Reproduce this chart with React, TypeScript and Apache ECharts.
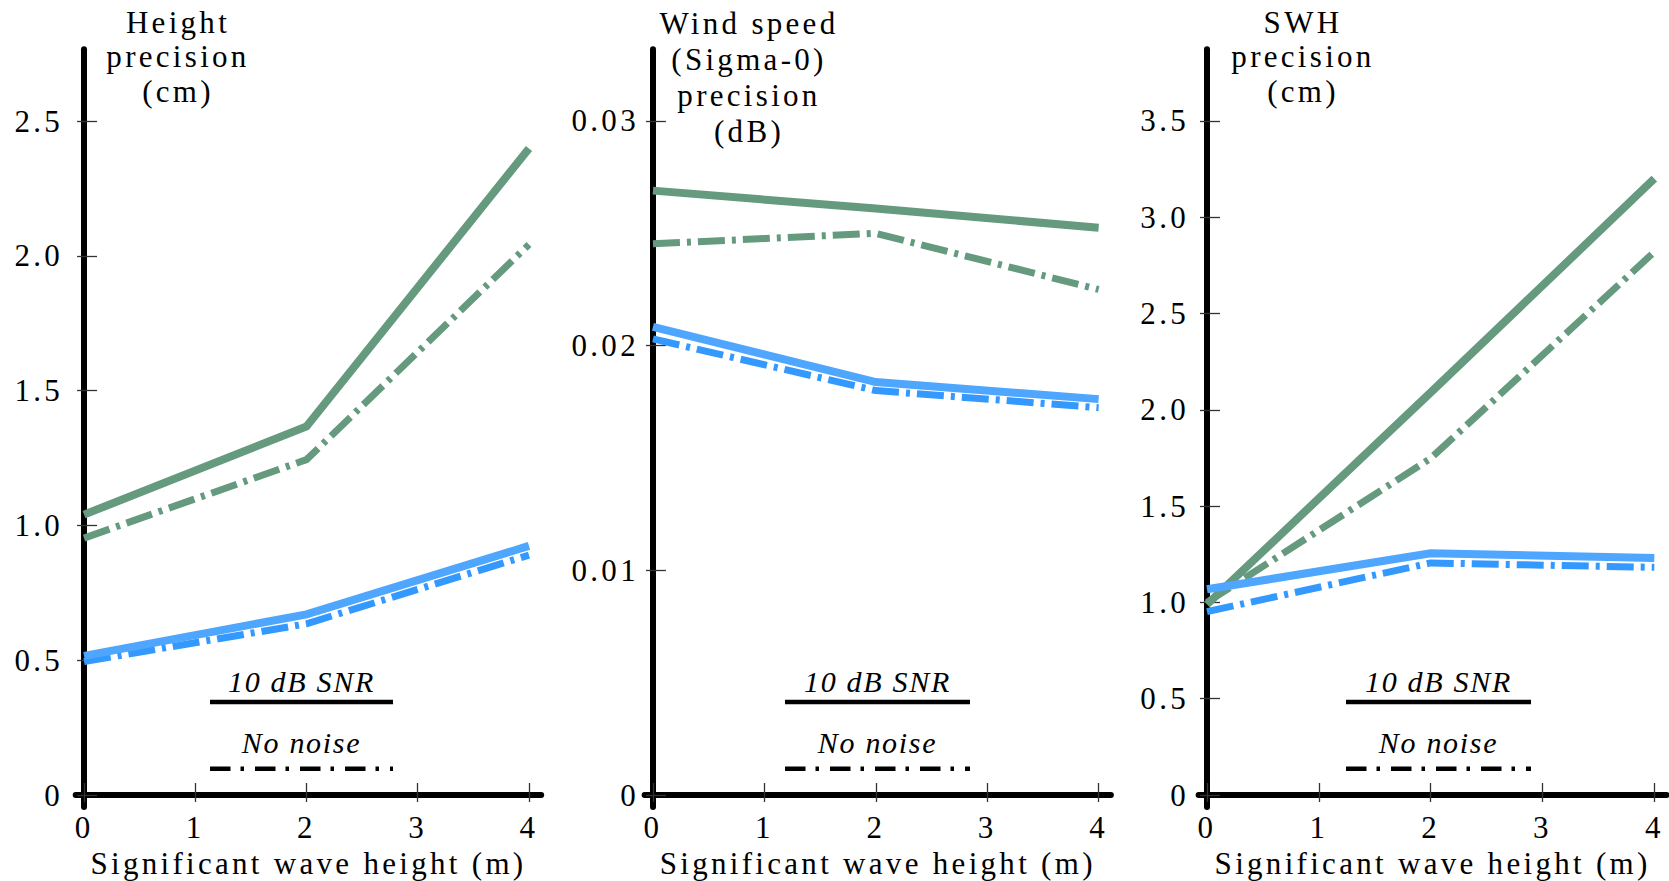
import React, { useEffect, useRef } from "react";
import * as echarts from "echarts";

// ---------- data ----------
const waveHeights = [0, 2, 4];
const xTickValues = [0, 1, 2, 3, 4];

const heightSolidGreen = [1.04, 1.367, 2.398];
const heightDashGreen = [0.953, 1.244, 2.042];
const heightSolidBlue = [0.516, 0.67, 0.924];
const heightDashBlue = [0.495, 0.635, 0.89];
const heightTicks = [0, 0.5, 1, 1.5, 2, 2.5];

const windSolidGreen = [0.0269, 0.0261, 0.02525];
const windDashGreen = [0.02453, 0.025, 0.0225];
const windSolidBlue = [0.02084, 0.01838, 0.01762];
const windDashBlue = [0.0203, 0.018, 0.01724];
const windTicks = [0, 0.01, 0.02, 0.03];

const swhSolidGreen = [0.99, 2.09, 3.2];
const swhDashGreen = [1.0, 1.748, 2.82];
const swhSolidBlue = [1.068, 1.255, 1.23];
const swhDashBlue = [0.952, 1.205, 1.182];
const swhTicks = [0, 0.5, 1, 1.5, 2, 2.5, 3, 3.5];

const panelTitles = [
  "Height\nprecision\n(cm)",
  "Wind speed\n(Sigma-0)\nprecision\n(dB)",
  "SWH\nprecision\n(cm)",
];
const xAxisName = "Significant wave height (m)";
const legendSolidText = "10 dB SNR";
const legendDashText = "No noise";

// ---------- styling / layout ----------
const FONT = "Liberation Serif, serif";
const GREEN = "#659a7e";
const BLUE_SOLID = "#4ea6ff";
const BLUE_DASH = "#3399ff";
const SERIES_DASH = [27, 7, 4, 7];
const LEGEND_DASH = [20.5, 10, 3.5, 11];

const GRID_TOP = 49.3;
const GRID_HEIGHT = 757.7;
const X_MIN = -0.075;
const X_MAX = 4.11;

const panels = [
  {
    left: 75.7, width: 465.5, yMin: -0.0445, yMax: 2.766, labelMargin: 21, decimals: 1,
    titleX: 178, legendX1: 210, legendX2: 393, ticks: heightTicks, titleLineHeight: 34.5,
    lines: [heightSolidGreen, heightDashGreen, heightDashBlue, heightSolidBlue],
  },
  {
    left: 644.6, width: 466.3, yMin: -0.000534, yMax: 0.03319, labelMargin: 14, decimals: 2,
    titleX: 749, legendX1: 785, legendX2: 970, ticks: windTicks, titleLineHeight: 36,
    lines: [windSolidGreen, windDashGreen, windDashBlue, windSolidBlue],
  },
  {
    left: 1198.6, width: 468, yMin: -0.0623, yMax: 3.872, labelMargin: 18, decimals: 1,
    titleX: 1303, legendX1: 1346, legendX2: 1531, ticks: swhTicks, titleLineHeight: 34.5,
    lines: [swhSolidGreen, swhDashGreen, swhDashBlue, swhSolidBlue],
  },
];

const lineStyles = [
  { color: GREEN, width: 8, dashed: false },
  { color: GREEN, width: 7, dashed: true },
  { color: BLUE_DASH, width: 7, dashed: true },
  { color: BLUE_SOLID, width: 8, dashed: false },
];

const css = `
.wave-chart text { letter-spacing: 3.3px; }
.wave-chart text[style*="italic"], .wave-chart text[font-style="italic"] { letter-spacing: 1.7px; }
`;

function buildOption() {
  const grid: any[] = [];
  const xAxis: any[] = [];
  const yAxis: any[] = [];
  const series: any[] = [];
  const graphic: any[] = [];

  const labelStyle = { color: "#000", fontSize: 31, fontFamily: FONT };
  const tickStyle = { color: "#333", width: 1.3 };

  panels.forEach((p) => {
    grid.push({
      left: p.left, top: GRID_TOP, width: p.width, height: GRID_HEIGHT,
      containLabel: false, outerBoundsMode: "none",
    });
  });

  panels.forEach((p, i) => {
    const fmt = (v: number) => (v === 0 ? "0" : v.toFixed(p.decimals));
    // position of the zero lines, relative to the grid edges
    const xOffset = -((0 - p.yMin) / (p.yMax - p.yMin)) * GRID_HEIGHT;
    const yOffset = -((0 - X_MIN) / (X_MAX - X_MIN)) * p.width;
    // main axes (line, labels, inner part of the ticks)
    xAxis.push({
      type: "value", gridIndex: i, min: X_MIN, max: X_MAX, position: "bottom", offset: xOffset,
      axisLine: { show: true, onZero: false, lineStyle: { color: "#000", width: 6 } },
      axisTick: { show: true, inside: true, length: 12, customValues: xTickValues, lineStyle: tickStyle },
      axisLabel: { show: true, customValues: xTickValues, margin: 17, ...labelStyle },
      splitLine: { show: false },
      name: xAxisName, nameLocation: "middle", nameGap: 50,
      nameTextStyle: { ...labelStyle },
    });
    yAxis.push({
      type: "value", gridIndex: i, min: p.yMin, max: p.yMax, position: "left", offset: yOffset,
      axisLine: { show: true, onZero: false, lineStyle: { color: "#000", width: 6 } },
      axisTick: { show: true, inside: true, length: 13, customValues: p.ticks, lineStyle: tickStyle },
      axisLabel: { show: true, customValues: p.ticks, margin: p.labelMargin, formatter: fmt, ...labelStyle },
      splitLine: { show: false },
    });
  });

  panels.forEach((p, i) => {
    const xOffset = -((0 - p.yMin) / (p.yMax - p.yMin)) * GRID_HEIGHT;
    const yOffset = -((0 - X_MIN) / (X_MAX - X_MIN)) * p.width;
    // secondary axes: outer part of the crossing ticks
    xAxis.push({
      type: "value", gridIndex: i, min: X_MIN, max: X_MAX, position: "bottom", offset: xOffset,
      axisLine: { show: false, onZero: false },
      axisTick: { show: true, inside: false, length: 7, customValues: xTickValues, lineStyle: tickStyle },
      axisLabel: { show: false },
      splitLine: { show: false },
    });
    yAxis.push({
      type: "value", gridIndex: i, min: p.yMin, max: p.yMax, position: "left", offset: yOffset,
      axisLine: { show: false, onZero: false },
      axisTick: { show: true, inside: false, length: 7, customValues: p.ticks, lineStyle: tickStyle },
      axisLabel: { show: false },
      splitLine: { show: false },
    });
  });

  panels.forEach((p, i) => {
    p.lines.forEach((vals, k) => {
      const ls = lineStyles[k];
      series.push({
        type: "line", xAxisIndex: i, yAxisIndex: i,
        data: waveHeights.map((x, j) => [x, vals[j]]),
        showSymbol: false, symbol: "none", silent: true,
        emphasis: { disabled: true },
        lineStyle: { color: ls.color, width: ls.width, type: ls.dashed ? SERIES_DASH : "solid", cap: "butt", join: "miter" },
      });
    });
    // titles
    graphic.push({
      type: "text", x: p.titleX, y: 5,
      style: {
        text: panelTitles[i], fill: "#000", fontSize: 31, fontFamily: FONT,
        textAlign: "center", align: "center", textVerticalAlign: "top", verticalAlign: "top",
        lineHeight: p.titleLineHeight,
      },
    });
    // legend
    const cx = (p.legendX1 + p.legendX2) / 2;
    graphic.push({
      type: "text", x: cx, y: 681.6,
      style: {
        text: legendSolidText, fill: "#000", fontSize: 30, fontStyle: "italic", fontFamily: FONT,
        textAlign: "center", align: "center", textVerticalAlign: "middle", verticalAlign: "middle",
      },
    });
    graphic.push({
      type: "line",
      shape: { x1: p.legendX1, y1: 702, x2: p.legendX2, y2: 702 },
      style: { stroke: "#000", lineWidth: 4.5 },
    });
    graphic.push({
      type: "text", x: cx, y: 742.9,
      style: {
        text: legendDashText, fill: "#000", fontSize: 30, fontStyle: "italic", fontFamily: FONT,
        textAlign: "center", align: "center", textVerticalAlign: "middle", verticalAlign: "middle",
      },
    });
    graphic.push({
      type: "line",
      shape: { x1: p.legendX1, y1: 768.7, x2: p.legendX2, y2: 768.7 },
      style: { stroke: "#000", lineWidth: 4.5, lineDash: LEGEND_DASH },
    });
  });

  return {
    animation: false,
    backgroundColor: "#fff",
    grid, xAxis, yAxis, series, graphic,
  };
}

export default function App() {
  const ref = useRef<HTMLDivElement>(null);
  useEffect(() => {
    if (!ref.current) return;
    const chart = echarts.init(ref.current, null, { renderer: "svg" });
    chart.setOption(buildOption() as any);
    return () => chart.dispose();
  }, []);
  return (
    <>
      <style>{css}</style>
      <div
        ref={ref}
        className="wave-chart"
        style={{ position: "absolute", left: 0, top: 0, width: 1669, height: 881, background: "#fff" }}
      />
    </>
  );
}
